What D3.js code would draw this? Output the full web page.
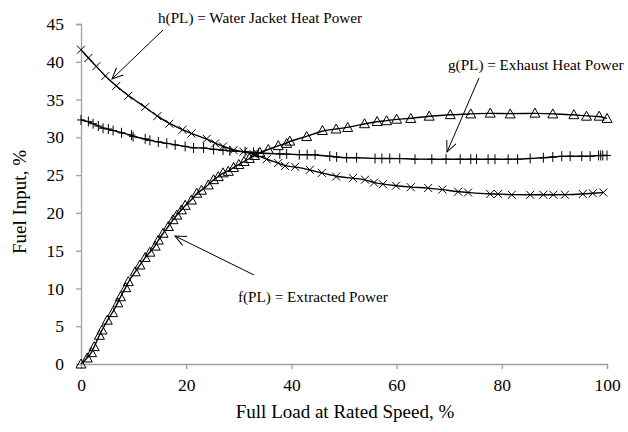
<!DOCTYPE html>
<html>
<head>
<meta charset="utf-8">
<script src="https://cdn.jsdelivr.net/npm/d3@7"></script>
<style>
  body { margin: 0; background: #fff; }
  svg text { font-family: "Times New Roman", "Liberation Serif", "DejaVu Serif", serif; }
</style>
</head>
<body>
<svg width="628" height="432"></svg>
<script>
// f(PL) = Extracted Power (triangles)
var fx = [0,1.2,2,2.5,3.5,4,5,6,7,7.5,8.5,9,10.3,11.2,12.2,13.1,14.1,14.7,15.6,16.6,17.5,18.2,19.1,19.8,21,22,22.9,24.2,25.2,26.1,27,28,29,30,31,32,33,34,35.6,37.5,39.1,39.7,42.9,45.9,48.5,50.7,53.9,56.3,58.1,60,62.7,66.2,70.2,74.1,77.8,81.6,86.3,89.7,93.7,96.1,98.5,100];
var fy = [0,0.8,1.5,2.3,3.8,4.5,5.8,6.8,8.1,8.9,10.1,10.9,12.2,13.1,14.1,14.8,15.6,16.4,17.3,18.2,19.1,19.7,20.4,21,21.7,22.6,23,23.7,24.4,24.8,25.3,25.5,26,26.4,26.8,27.2,27.6,28,28.4,28.9,29.2,29.5,30.1,30.9,31.1,31.3,31.8,32.1,32.2,32.4,32.5,32.8,33,33.1,33.2,33.1,33.2,33.1,33,32.8,32.8,32.5];

// g(PL) = Exhaust Heat Power (plus)
var gx = [0,1.4,2.3,3.3,4.2,5.2,6.1,7.7,9.6,9.9,12.2,13.1,14.7,16.3,17.9,19.8,21.4,23.3,25.2,27,28.3,31.2,32.8,33.7,37.8,39.1,41.5,43,44.5,47.3,48.6,50.5,52.4,55.9,57.2,58.7,60.6,63.5,66.7,69.4,72.1,74.1,75.2,77.4,78.7,81.2,83,85.4,87.9,89.7,91.4,93,95.2,96.8,98.4,98.8,99.2,100];
var gy = [32.3,32.1,31.8,31.5,31.2,31.1,30.9,30.6,30.3,30.1,29.8,29.6,29.4,29.2,29,28.8,28.6,28.6,28.4,28.3,28.2,28.1,28,27.9,27.8,27.8,27.7,27.7,27.7,27.5,27.4,27.3,27.3,27.2,27.2,27.2,27.2,27.1,27.1,27.1,27.1,27.1,27.1,27.1,27.1,27.1,27.1,27.2,27.3,27.4,27.5,27.5,27.5,27.5,27.6,27.6,27.6,27.6];

// h(PL) = Water Jacket Heat Power (cross)
var hx = [0,1.4,2.9,4.6,6.7,9,12.2,14.5,16.8,19.3,21,23.9,25.5,27,29,30.9,32.8,35.3,37.5,38.8,40.7,43.5,45.8,48.5,51.7,54,55.7,57.4,59.9,62.7,66,68.7,71.7,73.6,77.8,79.3,81.9,85.4,87.9,89.8,92,95.4,97.3,99.3];
var hy = [41.6,40.5,39.4,38.1,36.8,35.5,34,32.8,31.8,31,30.5,29.8,29.2,28.8,28.3,28.1,27.8,27.1,26.6,26.2,26.1,25.7,25.3,24.8,24.6,24.4,24,23.8,23.6,23.4,23.3,23.1,22.8,22.7,22.5,22.5,22.4,22.4,22.4,22.4,22.4,22.5,22.6,22.7];

var xTicks = [0, 20, 40, 60, 80, 100];
var yTicks = [0, 5, 10, 15, 20, 25, 30, 35, 40, 45];

var serif = "'Times New Roman', 'Liberation Serif', 'DejaVu Serif', serif";
var svg = d3.select("svg").attr("font-family", serif);
var axisColor = "#a0a0a0";

var x = d3.scaleLinear().domain([0, 100]).range([81, 607]);
var y = d3.scaleLinear().domain([0, 45]).range([364, 24]);

// axes
var xAxis = svg.append("g")
    .attr("transform", "translate(0,364)")
    .call(d3.axisBottom(x).tickValues(xTicks).tickSize(5).tickPadding(10));
var yAxis = svg.append("g")
    .attr("transform", "translate(81,0)")
    .call(d3.axisLeft(y).tickValues(yTicks).tickSize(5).tickPadding(12));

[xAxis, yAxis].forEach(function(a) {
  a.attr("font-family", serif).attr("font-size", 17.5);
  a.selectAll("path, line").attr("stroke", axisColor).attr("stroke-width", 1.3);
  a.selectAll("text").attr("fill", "#000");
});

// axis titles
svg.append("text")
    .attr("x", 345).attr("y", 418)
    .attr("text-anchor", "middle")
    .attr("font-size", 19)
    .text("Full Load at Rated Speed, %");
svg.append("text")
    .attr("transform", "translate(26,202) rotate(-90)")
    .attr("text-anchor", "middle")
    .attr("font-size", 19)
    .text("Fuel Input, %");

// series
var series = [
  {xs: fx, ys: fy, marker: "tri"},
  {xs: gx, ys: gy, marker: "plus"},
  {xs: hx, ys: hy, marker: "cross"}
];

var line = d3.line()
    .x(function(d) { return x(d[0]); })
    .y(function(d) { return y(d[1]); })
    .curve(d3.curveBasis);

var shapes = {
  tri: "M0,-5L5,4L-5,4Z",
  plus: "M0,-5V5M-4,0H4",
  cross: "M-4,-4L4,4M-4,4L4,-4"
};

series.forEach(function(s) {
  var pts = d3.zip(s.xs, s.ys);
  svg.append("path")
      .datum(pts)
      .attr("d", line)
      .attr("fill", "none")
      .attr("stroke", "#000")
      .attr("stroke-width", 1.4);
  svg.append("g").selectAll("path")
    .data(pts)
    .enter()
    .append("path")
      .attr("transform", function(d) { return "translate(" + x(d[0]) + "," + y(d[1]) + ")"; })
      .attr("d", shapes[s.marker])
      .attr("fill", "none")
      .attr("stroke", "#000")
      .attr("stroke-width", 1);
});

// annotations
svg.append("defs").append("marker")
    .attr("id", "arrow")
    .attr("viewBox", "-12 -6 14 12")
    .attr("refX", 0).attr("refY", 0)
    .attr("markerWidth", 14).attr("markerHeight", 12)
    .attr("markerUnits", "userSpaceOnUse")
    .attr("orient", "auto")
  .append("path")
    .attr("d", "M-11,-5L0,0L-11,5")
    .attr("fill", "none")
    .attr("stroke", "#000")
    .attr("stroke-width", 1);

var notes = [
  {text: "h(PL) = Water Jacket Heat Power", tx: 158, ty: 23, from: [163, 30], to: [112, 79]},
  {text: "g(PL) = Exhaust Heat Power", tx: 448, ty: 70, from: [479, 78], to: [447, 152]},
  {text: "f(PL) = Extracted Power", tx: 238, ty: 302, from: [254, 275], to: [175, 236]}
];

notes.forEach(function(n) {
  svg.append("text")
      .attr("x", n.tx).attr("y", n.ty)
      .attr("font-size", 15.2)
      .text(n.text);
  svg.append("line")
      .attr("x1", n.from[0]).attr("y1", n.from[1])
      .attr("x2", n.to[0]).attr("y2", n.to[1])
      .attr("stroke", "#000")
      .attr("stroke-width", 1)
      .attr("marker-end", "url(#arrow)");
});
</script>
</body>
</html>
